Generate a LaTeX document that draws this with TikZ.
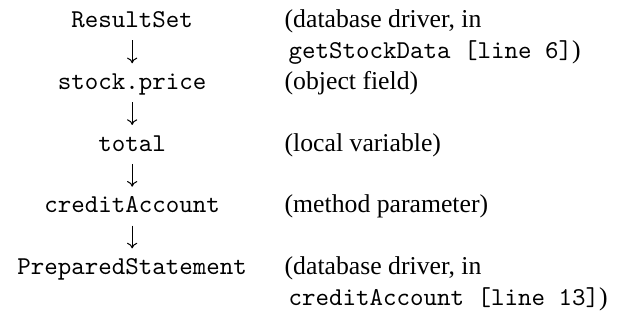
\documentclass[tikz,border=0pt]{standalone}
\usepackage{fontspec}
\setmainfont{Liberation Serif}
\setmonofont{Latin Modern Mono}
\usetikzlibrary{arrows.meta}
\begin{document}
\begin{tikzpicture}[x=1pt,y=1pt,
  var/.style={inner sep=0pt,anchor=base,font=\ttfamily},
  desc/.style={inner sep=0pt,anchor=base west,font=\rmfamily},
  flow/.style={line width=0.4pt,-{To[length=2.2pt,width=4pt]}},
  font=\fontsize{10}{12}\selectfont]
\useasboundingbox (0,0) rectangle (245,-124.44);
% left column: the chain of values
\def\cx{51.4}
\def\dx{110.5}
\def\tx{112}
\node[var] (rs)  at (\cx,-10.8)  {ResultSet};
\node[var] (sp)  at (\cx,-34.8)  {stock.price};
\node[var] (tot) at (\cx,-58.8)  {total};
\node[var] (ca)  at (\cx,-82.8)  {creditAccount};
\node[var] (ps)  at (\cx,-106.8) {PreparedStatement};
% right column: where each value lives
\node[desc] (d1a) at (\dx,-10.8)  {(database driver, in};
\node[desc] (d1b) at (\tx,-22.8)  {\texttt{getStockData [line 6]})};
\node[desc] (d2)  at (\dx,-34.8)  {(object field)};
\node[desc] (d3)  at (\dx,-58.8)  {(local variable)};
\node[desc] (d4)  at (\dx,-82.8)  {(method parameter)};
\node[desc] (d5a) at (\dx,-106.8) {(database driver, in};
\node[desc] (d5b) at (\tx,-118.8) {\texttt{creditAccount [line 13]})};
% arrows between consecutive values
\foreach \a/\b in {rs/sp,sp/tot,tot/ca,ca/ps}
  \draw[flow] ([yshift=-4.9pt]\a.base) -- ([yshift=10.2pt]\b.base);
\end{tikzpicture}
\end{document}
